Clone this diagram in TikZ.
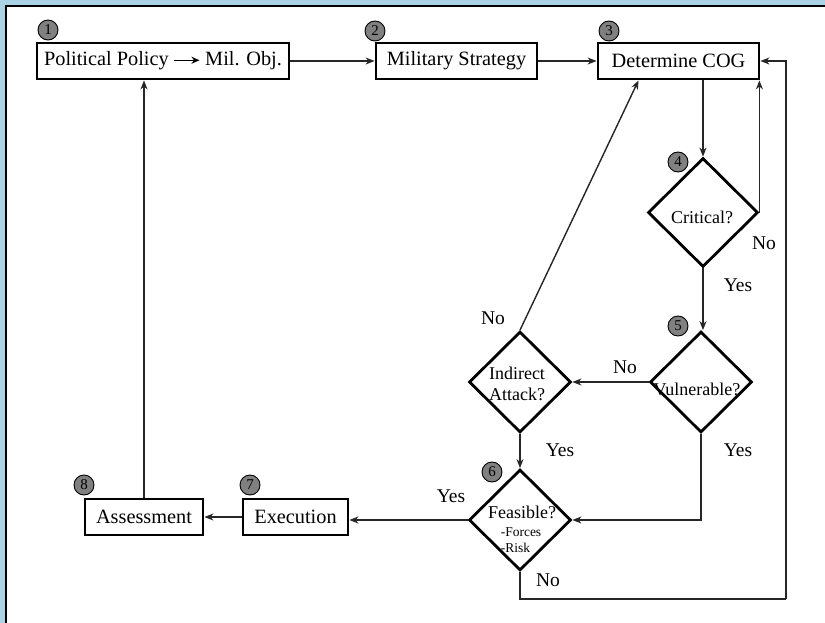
\documentclass[tikz,border=0pt]{standalone}
\usepackage{fontspec}
\setmainfont{Liberation Serif}
\usetikzlibrary{shapes.geometric,arrows.meta}
\definecolor{bgblue}{RGB}{170,212,230}
\definecolor{numgray}{RGB}{128,128,128}
\tikzset{
  x=1pt,y=-1pt,
  box/.style={draw=black,line width=2.8pt,fill=white,inner sep=0pt,font=\fontsize{20.3}{22}\selectfont},
  dia/.style={draw=black,line width=2.8pt,diamond,inner sep=0pt,aspect=1},
  diatext/.style={font=\fontsize{18}{21}\selectfont,align=center,inner sep=0pt},
  lbl/.style={font=\fontsize{19.5}{22}\selectfont,inner sep=0pt},
  num/.style={circle,draw=black,line width=0.9pt,fill=numgray,minimum size=20pt,inner sep=0pt,font=\fontsize{15}{15}\selectfont},
  conn/.style={draw=black!85,line width=1.4pt,-{Stealth[length=9pt,width=7pt]}},
  seg/.style={draw=black!85,line width=1.4pt}
}
\begin{document}
\begin{tikzpicture}
\useasboundingbox (0,0) rectangle (825,623);
\fill[bgblue] (0,0) rectangle (825,623);
\fill[white] (6,6) rectangle (825,623);
\draw[line width=2.4pt] (6,623) -- (6,6) -- (825,6);

% boxes
\node[box,minimum width=252pt,minimum height=36pt] (b1) at (163,61)
  {Political Policy \tikz[baseline=-0.6ex,x=1pt,y=1pt]\draw[line width=1.4pt,-{Stealth[length=8pt,width=7pt]}] (0,0) -- (25,0); Mil. Obj.};
\node[box,minimum width=161pt,minimum height=36pt] (b2) at (456.5,61) {Military Strategy};
\node[box,minimum width=161pt,minimum height=36pt] (b3) at (678.5,61) {Determine COG};
\node[box,minimum width=105pt,minimum height=36pt] (ex) at (295.5,517) {Execution};
\node[box,minimum width=118pt,minimum height=36pt] (as) at (144,517) {Assessment};

% diamonds
\node[dia,minimum width=110pt,minimum height=109pt] (d4) at (703,212.5) {};
\node[diatext] (t4) at (702,217) {Critical?};
\node[dia,minimum width=102pt,minimum height=101pt] (d5) at (701,382) {};
\node[dia,minimum width=102pt,minimum height=101pt] (di) at (520,382) {};
\node[dia,minimum width=102pt,minimum height=101pt] (d6) at (520,520) {};
\node[diatext] (t5) at (697,389) {Vulnerable?};
\node[diatext] (ti) at (517,384) {Indirect\\Attack?};
\node[diatext] (t6a) at (522,512) {Feasible?};
\node[diatext,font=\fontsize{13.5}{16}\selectfont,align=left] (t6b) at (521,540) {-Forces\\-Risk};

% numbers
\node[num] (n1) at (48,30) {1};
\node[num] (n2) at (375,31) {2};
\node[num] (n3) at (609,31) {3};
\node[num] (n4) at (678,162) {4};
\node[num] (n5) at (678,326) {5};
\node[num] (n6) at (492,472) {6};
\node[num] (n7) at (250,485) {7};
\node[num] (n8) at (84,485) {8};

% connectors
\coordinate (loop) at (786,599);
\path[conn] (b1.east) -- (b2.west);
\path[conn] (b2.east) -- (b3.west);
\path[conn] (d4.north |- b3.south) -- (d4.north);
\path[conn] (d4.east) -- (d4.east |- b3.south);
\path[conn] (d4.south) -- (d4.south |- d5.north);
\path[conn] (d5.west) -- (di.east);
\path[conn] (di.north) -- ([xshift=-40pt]b3.south);
\path[conn] (di.south) -- (d6.north);
\path[conn] (d5.south) |- (d6.east);
\path[seg] (d6.south) |- (loop);
\path[conn] (loop) |- (b3.east);
\path[conn] (d6.west) -- (d6.west -| ex.east);
\path[conn] (ex.west) -- (as.east);
\path[conn] (as.north) -- (as.north |- b1.south);

% labels
\node[lbl] (l1) at (764,243) {No};
\node[lbl] (l2) at (738,285) {Yes};
\node[lbl] (l3) at (493,318) {No};
\node[lbl] (l4) at (625,367) {No};
\node[lbl] (l5) at (560,450) {Yes};
\node[lbl] (l6) at (738,450) {Yes};
\node[lbl] (l7) at (451,496) {Yes};
\node[lbl] (l8) at (548,580) {No};
\end{tikzpicture}
\end{document}
